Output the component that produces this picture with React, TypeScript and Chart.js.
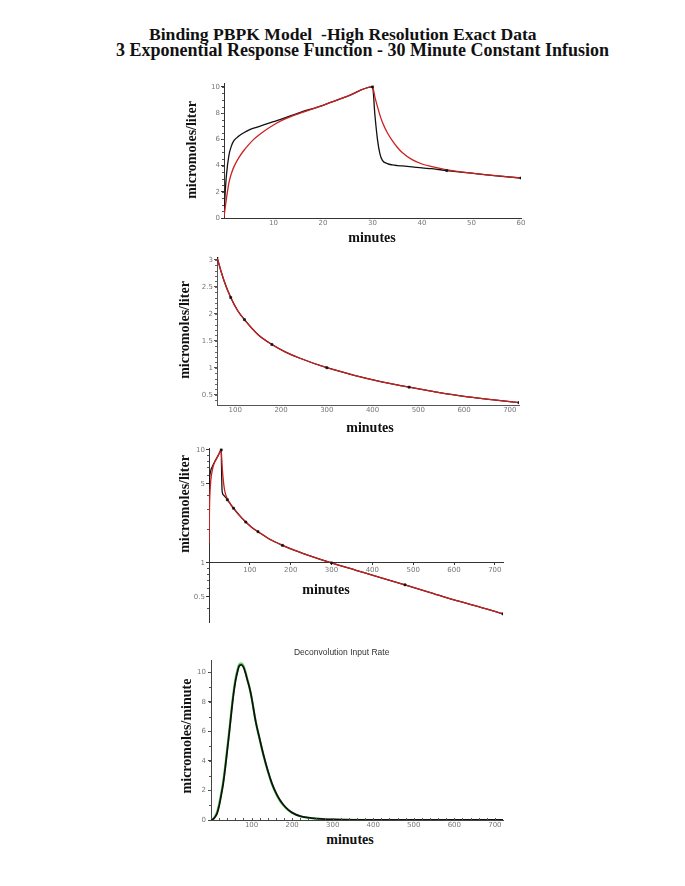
import React, { useEffect, useRef } from "react";
import { Chart, registerables } from "chart.js";

Chart.register(...registerables);
Chart.defaults.font.family = "DejaVu Sans";

// ---------- data ----------
const TIMES = [0, 0.25, 0.5, 1, 1.5, 2, 3, 4, 5, 6, 8, 10, 12, 15, 20, 25, 30, 30.5, 31, 31.5, 32, 33, 34, 35, 36, 38, 40, 42, 45, 50, 55, 60, 75, 90, 105, 120, 150, 180, 210, 240, 300, 360, 420, 480, 540, 600, 660, 720];
const BLACK = [0.3, 2.0, 3.3, 4.8, 5.5, 5.9, 6.25, 6.5, 6.7, 6.85, 7.1, 7.35, 7.6, 8.0, 8.6, 9.3, 10, 7.8, 6.0, 4.9, 4.4, 4.15, 4.05, 4.0, 3.97, 3.9, 3.82, 3.76, 3.62, 3.42, 3.22, 3.05, 2.62, 2.3, 2.06, 1.89, 1.61, 1.43, 1.29, 1.18, 1.0, 0.86, 0.74, 0.64, 0.55, 0.47, 0.41, 0.354];
const RED = [0.1, 0.8, 1.5, 2.7, 3.4, 3.9, 4.6, 5.15, 5.6, 6.0, 6.6, 7.1, 7.5, 7.95, 8.6, 9.3, 10, 9.2, 8.5, 7.85, 7.3, 6.5, 5.9, 5.4, 5.0, 4.45, 4.12, 3.92, 3.68, 3.43, 3.23, 3.05, 2.62, 2.3, 2.06, 1.89, 1.61, 1.43, 1.29, 1.18, 1.0, 0.86, 0.74, 0.64, 0.55, 0.47, 0.41, 0.354];
const OBS_T = [30, 45, 60, 90, 120, 180, 300, 480, 720];
const OBS_V = [10, 3.62, 3.05, 2.3, 1.89, 1.43, 1.0, 0.64, 0.354];

const D_T = [0, 5, 10, 15, 20, 25, 30, 35, 40, 45, 50, 55, 60, 65, 70, 75, 80, 85, 90, 95, 100, 110, 120, 130, 140, 150, 160, 170, 180, 190, 200, 220, 240, 260, 280, 300, 350, 400, 500, 600, 720];
const D_BLACK = [0, 0.05, 0.2, 0.45, 0.95, 1.65, 2.45, 3.5, 4.7, 5.9, 7.2, 8.4, 9.35, 10.0, 10.45, 10.5, 10.35, 9.95, 9.45, 8.95, 8.3, 6.7, 5.5, 4.35, 3.35, 2.5, 1.85, 1.35, 0.98, 0.7, 0.5, 0.26, 0.16, 0.1, 0.06, 0.04, 0.01, 0, 0, 0, 0];
const D_GREEN = [0, 0.06, 0.25, 0.55, 1.1, 1.8, 2.6, 3.65, 4.85, 6.05, 7.35, 8.55, 9.5, 10.15, 10.55, 10.6, 10.45, 10.05, 9.5, 8.95, 8.3, 6.7, 5.45, 4.3, 3.3, 2.45, 1.8, 1.3, 0.95, 0.68, 0.48, 0.25, 0.15, 0.09, 0.05, 0.03, 0.01, 0, 0, 0, 0];

const P1_XTICKS = [10, 20, 30, 40, 50, 60];
const P1_YTICKS = [0, 2, 4, 6, 8, 10];
const P2_XTICKS = [100, 200, 300, 400, 500, 600, 700];
const P2_YTICKS = [0.5, 1, 1.5, 2, 2.5, 3];
const P3_XTICKS = [100, 200, 300, 400, 500, 600, 700];
const P3_YTICKS = [0.5, 1, 5, 10];
const P3_YMINOR = [0.4, 0.6, 0.7, 0.8, 0.9, 2, 3, 4, 6, 7, 8, 9];
const P4_XTICKS = [100, 200, 300, 400, 500, 600, 700];
const P4_YTICKS = [0, 2, 4, 6, 8, 10];

// ---------- helpers ----------
const xy = (t: number[], v: number[]) => t.map((x, i) => ({ x, y: v[i] }));
const steps = (a: number, b: number, s: number) => {
  const out: number[] = [];
  for (let v = a; v <= b + 1e-9; v += s) out.push(Math.round(v * 1000) / 1000);
  return out;
};

type Spec = { axis: "x" | "y"; values: number[]; len: number; atY?: number; dir?: number };
const makeMinor = (specs: Spec[], color: string) => ({
  id: "minorTicks",
  afterDatasetsDraw(chart: any) {
    const { ctx, chartArea, scales } = chart;
    ctx.save();
    ctx.strokeStyle = color;
    ctx.lineWidth = 1;
    for (const s of specs) {
      if (s.axis === "y") {
        const x0 = chartArea.left;
        for (const v of s.values) {
          const y = Math.round(scales.y.getPixelForValue(v)) + 0.5;
          if (y < chartArea.top - 1 || y > chartArea.bottom + 1) continue;
          ctx.beginPath();
          ctx.moveTo(x0 - s.len, y);
          ctx.lineTo(x0, y);
          ctx.stroke();
        }
      } else {
        const y0 = s.atY != null ? scales.y.getPixelForValue(s.atY) : chartArea.bottom;
        for (const v of s.values) {
          const x = Math.round(scales.x.getPixelForValue(v)) + 0.5;
          if (x < chartArea.left || x > chartArea.right) continue;
          ctx.beginPath();
          ctx.moveTo(x, y0);
          ctx.lineTo(x, y0 + (s.dir ?? 1) * s.len);
          ctx.stroke();
        }
      }
    }
    ctx.restore();
  },
});

const tickFont = { family: "DejaVu Sans", size: 7 };

function axis(o: {
  type?: string; min: number; max: number; ticks: number[]; position: any; size: number;
  horizontal: boolean; color: string; tickLength: number; pad: number;
}) {
  return {
    type: o.type || "linear",
    min: o.min,
    max: o.max,
    position: o.position,
    afterFit: (s: any) => {
      if (o.horizontal) s.height = o.size;
      else s.width = o.size;
    },
    afterBuildTicks: (s: any) => {
      s.ticks = o.ticks.map((v) => ({ value: v }));
    },
    ticks: {
      font: tickFont,
      color: "#777",
      padding: o.pad,
      autoSkip: false,
      maxRotation: 0,
      callback: (v: any) => String(v),
    },
    grid: {
      display: true,
      drawOnChartArea: false,
      drawTicks: o.tickLength > 0,
      tickLength: o.tickLength,
      color: o.color,
    },
    border: { display: true, color: o.color, width: 1 },
  };
}

function lineDs(data: any[], color: string, width: number) {
  return {
    data,
    borderColor: color,
    backgroundColor: color,
    borderWidth: width,
    pointRadius: 0,
    fill: false,
    cubicInterpolationMode: "monotone",
  };
}

function obsDs(data: any[]) {
  return {
    data,
    showLine: false,
    pointStyle: "rect",
    pointRadius: 1.5,
    borderWidth: 0.5,
    borderColor: "#111",
    backgroundColor: "#111",
  };
}

type PanelProps = { left: number; top: number; width: number; height: number; make: () => any };

function Panel({ left, top, width, height, make }: PanelProps) {
  const ref = useRef<HTMLCanvasElement>(null);
  useEffect(() => {
    const chart = new Chart(ref.current as HTMLCanvasElement, make());
    return () => chart.destroy();
  }, []);
  return (
    <canvas
      ref={ref}
      width={width}
      height={height}
      style={{ position: "absolute", left, top, width, height }}
    />
  );
}

const baseOptions = (padding: any, scales: any) => ({
  responsive: false,
  animation: false,
  events: [],
  layout: { padding },
  plugins: { legend: { display: false }, tooltip: { enabled: false }, title: { display: false } },
  scales,
});

// Note: Chart.js draws dataset 0 on top, so the top-most series comes first.

// ---------- panel configs ----------
const make1 = () => ({
  type: "line",
  data: {
    datasets: [
      obsDs(xy(OBS_T, OBS_V)),
      lineDs(xy(TIMES, RED), "#cc2020", 1.3),
      lineDs(xy(TIMES, BLACK), "#111111", 1.3),
    ],
  },
  options: baseOptions(
    { left: 0, top: 9, right: 11, bottom: 0 },
    {
      x: axis({ min: 0, max: 60, ticks: P1_XTICKS, position: "bottom", size: 16, horizontal: true, color: "#333", tickLength: 0, pad: 1 }),
      y: axis({ min: 0, max: 10.3, ticks: P1_YTICKS, position: "left", size: 44, horizontal: false, color: "#333", tickLength: 3, pad: 1 }),
    }
  ),
  plugins: [makeMinor([{ axis: "y", values: steps(0.5, 10, 0.5), len: 2 }], "#555")],
});

const make2 = () => ({
  type: "line",
  data: {
    datasets: [
      obsDs(xy(OBS_T, OBS_V)),
      lineDs(xy(TIMES, RED), "#cc2020", 1.3),
      lineDs(xy(TIMES, BLACK), "#111111", 1.3),
    ],
  },
  options: baseOptions(
    { left: 0, top: 9, right: 11, bottom: 0 },
    {
      x: axis({ min: 60, max: 720, ticks: P2_XTICKS, position: "bottom", size: 15, horizontal: true, color: "#555", tickLength: 0, pad: 1 }),
      y: axis({ min: 0.31, max: 3.05, ticks: P2_YTICKS, position: "left", size: 42, horizontal: false, color: "#555", tickLength: 3, pad: 1 }),
    }
  ),
  plugins: [makeMinor([{ axis: "y", values: steps(0.4, 3, 0.1), len: 2 }], "#666")],
});

const make3 = () => ({
  type: "line",
  data: {
    datasets: [
      obsDs(xy(OBS_T, OBS_V)),
      lineDs(xy(TIMES, RED).filter((p) => p.x >= 0.5), "#cc2020", 1.3),
      lineDs(xy(TIMES, BLACK).filter((p) => p.x >= 0.5), "#111111", 1.3),
    ],
  },
  options: baseOptions(
    { left: 0, top: 9, right: 27, bottom: 7 },
    {
      x: axis({ min: 0, max: 720, ticks: P3_XTICKS, position: { y: 1 }, size: 14, horizontal: true, color: "#333", tickLength: 2, pad: 1 }),
      y: axis({ type: "logarithmic", min: 0.336, max: 10.4, ticks: P3_YTICKS, position: "left", size: 37, horizontal: false, color: "#333", tickLength: 3, pad: 1 }),
    }
  ),
  plugins: [makeMinor([{ axis: "y", values: P3_YMINOR, len: 2 }], "#555")],
});

const make4 = () => ({
  type: "line",
  data: {
    datasets: [
      lineDs(xy(D_T, D_BLACK), "#111111", 1.8),
      lineDs(xy(D_T, D_GREEN), "#5fd85f", 2.2),
    ],
  },
  options: baseOptions(
    { left: 0, top: 9.5, right: 27, bottom: 0 },
    {
      x: axis({ min: 0, max: 720, ticks: P4_XTICKS, position: "bottom", size: 12, horizontal: true, color: "#444", tickLength: 0, pad: 1 }),
      y: axis({ min: 0, max: 10.8, ticks: P4_YTICKS, position: "left", size: 39, horizontal: false, color: "#444", tickLength: 3, pad: 2 }),
    }
  ),
  plugins: [
    makeMinor(
      [
        { axis: "y", values: steps(1, 10, 1), len: 2 },
        { axis: "x", values: steps(20, 700, 20), len: 2, dir: -1 },
      ],
      "#555"
    ),
  ],
});

// ---------- text ----------
const serif = '"Liberation Serif", "Times New Roman", serif';

function Label({ x, y, text, size = 14, rotate = false, family = serif, weight = "bold", color = "#111" }: any) {
  return (
    <div
      style={{
        position: "absolute",
        left: x,
        top: y,
        transform: `translate(-50%, -50%)${rotate ? " rotate(-90deg)" : ""}`,
        whiteSpace: "nowrap",
        fontFamily: family,
        fontWeight: weight,
        fontSize: size,
        lineHeight: 1,
        color,
      }}
    >
      {text}
    </div>
  );
}

export default function App() {
  return (
    <div style={{ position: "absolute", left: 0, top: 0, width: 685, height: 886, background: "#fff", overflow: "hidden" }}>
      <div style={{ position: "absolute", left: 149, top: 25, fontFamily: serif, fontWeight: "bold", fontSize: 17.6, lineHeight: "18px", whiteSpace: "pre", color: "#111" }}>
        {"Binding PBPK Model  -High Resolution Exact Data"}
      </div>
      <div style={{ position: "absolute", left: 116, top: 41, fontFamily: serif, fontWeight: "bold", fontSize: 18, lineHeight: "18px", whiteSpace: "pre", color: "#111" }}>
        {"3 Exponential Response Function - 30 Minute Constant Infusion"}
      </div>

      <Panel left={180} top={74} width={352} height={160} make={make1} />
      <Panel left={175} top={248} width={355} height={172} make={make2} />
      <Panel left={172} top={439} width={358} height={190} make={make3} />
      <Panel left={172} top={651} width={358} height={181} make={make4} />

      <Label x={191.5} y={150} text="micromoles/liter" rotate />
      <Label x={372} y={238} text="minutes" />
      <Label x={185} y={330} text="micromoles/liter" rotate />
      <Label x={370} y={428} text="minutes" />
      <Label x={185} y={504} text="micromoles/liter" rotate />
      <Label x={326} y={590} text="minutes" />
      <Label x={187} y={736} text="micromoles/minute" rotate />
      <Label x={350} y={840} text="minutes" />
      <Label x={341.7} y={652.3} text="Deconvolution Input Rate" size={8.5} family='"Liberation Sans", Arial, sans-serif' weight="normal" color="#333" />
    </div>
  );
}
